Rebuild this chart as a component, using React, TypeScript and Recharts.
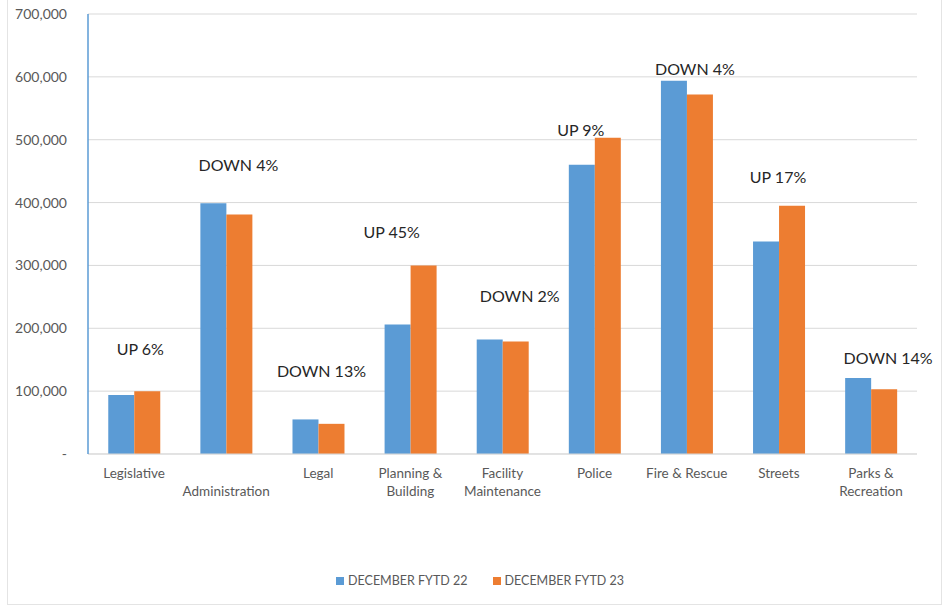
import { BarChart, Bar, XAxis, YAxis, CartesianGrid, Legend, LabelList } from "recharts";

const departments = [
  "Legislative",
  "Administration",
  "Legal",
  "Planning & Building",
  "Facility Maintenance",
  "Police",
  "Fire & Rescue",
  "Streets",
  "Parks & Recreation",
];

// how each category label is printed (Excel staggers "Administration" to row 2)
const tickLines = [
  ["Legislative"],
  ["", "Administration"],
  ["Legal"],
  ["Planning &", "Building"],
  ["Facility", "Maintenance"],
  ["Police"],
  ["Fire & Rescue"],
  ["Streets"],
  ["Parks &", "Recreation"],
];

const fytd22 = [94000, 399000, 55000, 206000, 182000, 460000, 594000, 338000, 121000];
const fytd23 = [100000, 381000, 48000, 300000, 179000, 503000, 572000, 395000, 103000];
const changeNotes = ["UP 6%", "DOWN 4%", "DOWN 13%", "UP 45%", "DOWN 2%", "UP 9%", "DOWN 4%", "UP 17%", "DOWN 14%"];
const yTicks = [0, 100000, 200000, 300000, 400000, 500000, 600000, 700000];

const data = departments.map((name, i) => ({
  name,
  fytd22: fytd22[i],
  fytd23: fytd23[i],
  note: changeNotes[i],
}));

// text boxes were hand-placed in the original, nudge each one
const noteNudge: [number, number][] = [
  [6, -40],
  [12, -48],
  [3, -51],
  [-19, -31],
  [17, -44],
  [-14, -6],
  [8, -24],
  [-1, -27],
  [17, -29],
];

const FONT = "Lato, 'Noto Sans', sans-serif";
const BLUE = "#5b9bd5";
const ORANGE = "#ed7d31";

function CategoryTick(props: any) {
  const { x, y, payload } = props;
  const lines = tickLines[payload.index] ?? [payload.value];
  return (
    <g>
      {lines.map((line, i) => (
        <text
          key={i}
          x={x}
          y={y + 16 + i * 18}
          textAnchor="middle"
          fontSize={13.5}
          fill="#595959"
          fontFamily={FONT}
        >
          {line}
        </text>
      ))}
    </g>
  );
}

function NoteLabel(props: any) {
  const { x, y, index } = props;
  const [dx, dy] = noteNudge[index];
  return (
    <text
      x={x + dx}
      y={y + dy}
      textAnchor="middle"
      dominantBaseline="middle"
      fontSize={16}
      fill="#262626"
      fontFamily={FONT}
    >
      {changeNotes[index]}
    </text>
  );
}

function LegendBox() {
  const items = [
    { label: "DECEMBER FYTD 22", color: BLUE },
    { label: "DECEMBER FYTD 23", color: ORANGE },
  ];
  return (
    <div style={{ display: "flex", paddingLeft: 336, gap: 25, fontFamily: FONT, fontSize: 12.5, color: "#595959" }}>
      {items.map((it) => (
        <span key={it.label} style={{ display: "flex", alignItems: "center", gap: 4 }}>
          <span style={{ width: 8, height: 8, background: it.color, display: "inline-block" }} />
          {it.label}
        </span>
      ))}
    </div>
  );
}

export default function App() {
  return (
    <div
      style={{
        position: "absolute",
        top: 0,
        left: 0,
        width: 943,
        height: 608,
        background: "#fff",
      }}
    >
      <div style={{ position: "absolute", left: 7, top: -2, width: 933, height: 605, border: "1px solid #e4e4e4" }} />
      <BarChart
        width={943}
        height={608}
        data={data}
        margin={{ top: 14, right: 26, left: 8, bottom: 89 }}
        barCategoryGap="22%"
        barGap={0}
      >
        <CartesianGrid vertical={false} stroke="#d9d9d9" />
        <XAxis
          dataKey="name"
          tick={<CategoryTick />}
          tickLine={false}
          axisLine={{ stroke: "#d9d9d9" }}
          interval={0}
          height={50}
        />
        <YAxis
          domain={[0, 700000]}
          ticks={yTicks}
          width={80}
          tickLine={false}
          axisLine={{ stroke: BLUE, strokeWidth: 1.5 }}
          tick={{ fontSize: 14, fill: "#595959", fontFamily: FONT }}
          tickFormatter={(v: number) => (v === 0 ? "-    " : v.toLocaleString("en-US"))}
          tickMargin={15}
        />
        <Legend
          verticalAlign="bottom"
          content={<LegendBox />}
          wrapperStyle={{ left: 0, width: 943, top: 573 }}
        />
        <Bar dataKey="fytd22" name="DECEMBER FYTD 22" fill={BLUE} isAnimationActive={false} />
        <Bar dataKey="fytd23" name="DECEMBER FYTD 23" fill={ORANGE} isAnimationActive={false}>
          <LabelList dataKey="note" content={<NoteLabel />} />
        </Bar>
      </BarChart>
    </div>
  );
}
